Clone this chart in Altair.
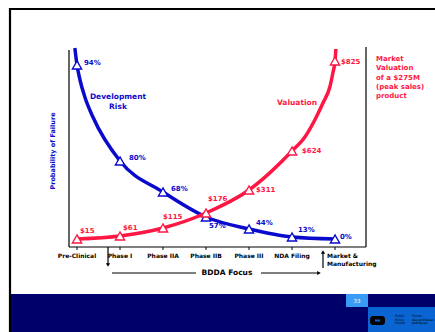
import altair as alt
import pandas as pd

# ---------------- data ----------------
stages = ["Pre-Clinical", "Phase I", "Phase IIA", "Phase IIB", "Phase III",
          "NDA Filing", "Market &\nManufacturing"]
risk_labels = ["94%", "80%", "68%", "57%", "44%", "13%", "0%"]
risk_level = [91, 43, 27.5, 15, 9, 5, 4]          # schematic curve height (0-100)
value_labels = ["$15", "$61", "$115", "$176", "$311", "$624", "$825"]
value_level = [4, 5.5, 9.5, 17, 28.5, 48, 93]     # schematic curve height (0-100)

# extra vertices of the drawn curves (stage index, height)
risk_curve_x = [-0.05, 0.07, 0.19, 0.37]
risk_curve_h = [99.5, 83.5, 74.5, 65]
value_curve_x = [5.30, 5.53, 5.72, 5.88, 5.95, 6.02]
value_curve_h = [55, 63.5, 72, 80, 87, 99]

idx = list(range(len(stages)))
BLUE = "#0A0ACC"
RED = "#FF1744"
FONT = "DejaVu Sans"

pts = pd.DataFrame({"i": idx, "stage": stages,
                    "risk": risk_level, "rlab": risk_labels,
                    "val": value_level, "vlab": value_labels})
risk_line = pd.DataFrame({"i": idx + risk_curve_x, "h": risk_level + risk_curve_h}).sort_values("i")
val_line = pd.DataFrame({"i": idx + value_curve_x, "h": value_level + value_curve_h}).sort_values("i")

X = alt.X("i:Q", scale=alt.Scale(domain=[0, 6], range=[77, 335], nice=False, zero=False), axis=None)
def Y(field):
    return alt.Y(f"{field}:Q", scale=alt.Scale(domain=[0, 100], range=[247, 47], nice=False, zero=False), axis=None)

one = pd.DataFrame({"a": [0]})

def rule(x, x2, y, y2, color="black", w=1.2):
    return alt.Chart(one).mark_rule(color=color, strokeWidth=w).encode(
        x=alt.value(x), x2=alt.value(x2), y=alt.value(y), y2=alt.value(y2))

def rect(x, x2, y, y2, color, r=0):
    return alt.Chart(one).mark_rect(color=color, cornerRadius=r).encode(
        x=alt.value(x), x2=alt.value(x2), y=alt.value(y), y2=alt.value(y2))

def txt(text, x, y, color="black", size=7, weight="bold", align="left", baseline="middle", angle=0, lh=None):
    kw = dict(text=text, color=color, fontSize=size, fontWeight=weight, align=align,
              baseline=baseline, font=FONT, lineBreak="\n")
    if angle:
        kw["angle"] = angle
    if lh:
        kw["lineHeight"] = lh
    return alt.Chart(one).mark_text(**kw).encode(x=alt.value(x), y=alt.value(y))

def head(shape, x, y, size=18):
    return alt.Chart(one).mark_point(shape=shape, filled=True, color="black", size=size, opacity=1).encode(
        x=alt.value(x), y=alt.value(y))

layers = []
# slide frame
layers += [rule(9, 435, 9, 9, w=2.2), rule(10, 10, 8, 332, w=2.2)]
# footer
layers += [rect(11, 435, 294, 332, "#00006A"), rect(346, 368, 294, 307, "#3A9BF5"),
           rect(368, 435, 307, 332, "#0A64D2"),
           txt("33", 357, 300.5, color="white", size=5.5, weight="normal", align="center"),
           rect(370, 385, 316, 325, "black", r=3), rect(375, 380, 319.5, 321.5, "#0A64D2"),
           txt("Public\nPolicy\nForum", 395, 316, size=3.2, weight="normal", baseline="middle", lh=3.6),
           txt("Forum\ndes politiques\npubliques", 412, 316, size=3.2, weight="normal", baseline="middle", lh=3.6)]
# axes frame
layers += [rule(69, 69, 50, 247), rule(366, 366, 47, 247), rule(69, 366, 247, 247)]

base = alt.Chart(pts)
# ticks
layers.append(base.mark_rule(color="black", strokeWidth=1).encode(x=X, y=alt.value(247), y2=alt.value(250)))
# tick labels
layers.append(base.transform_filter("datum.i < 6").mark_text(
    fontSize=6, fontWeight="bold", font=FONT, baseline="top", align="center").encode(
    x=X, y=alt.value(253), text="stage:N"))
layers.append(base.transform_filter("datum.i == 6").mark_text(
    fontSize=6, fontWeight="bold", font=FONT, baseline="top", align="left", dx=-8,
    lineBreak="\n", lineHeight=8).encode(x=X, y=alt.value(253), text="stage:N"))

# curves
layers.append(alt.Chart(risk_line).mark_line(color=BLUE, strokeWidth=3.5, interpolate="monotone").encode(x=X, y=Y("h")))
layers.append(alt.Chart(val_line).mark_line(color=RED, strokeWidth=3.5, interpolate="monotone").encode(x=X, y=Y("h")))

# markers
layers.append(base.mark_point(shape="triangle-up", size=85, fill="white", fillOpacity=1, stroke=BLUE,
                              strokeWidth=1.4, opacity=1).encode(x=X, y=Y("risk")))
layers.append(base.mark_point(shape="triangle-up", size=85, fill="white", fillOpacity=1, stroke=RED,
                              strokeWidth=1.4, opacity=1).encode(x=X, y=Y("val")))

# point labels (offsets are style)
risk_off = [(7, -2), (9, -3), (8, -3), (3, 9), (7, -6), (6, -7), (5, -2)]
val_off = [(3, -8), (3, -8), (0, -11), (2, -14), (7, 0), (10, 0), (6, 1)]
for k in idx:
    dx, dy = risk_off[k]
    layers.append(base.transform_filter(f"datum.i == {k}").mark_text(
        color=BLUE, fontSize=7, fontWeight="bold", font=FONT, align="left", baseline="middle",
        dx=dx, dy=dy).encode(x=X, y=Y("risk"), text="rlab:N"))
    dx, dy = val_off[k]
    layers.append(base.transform_filter(f"datum.i == {k}").mark_text(
        color=RED, fontSize=7, fontWeight="bold", font=FONT, align="left", baseline="middle",
        dx=dx, dy=dy).encode(x=X, y=Y("val"), text="vlab:N"))

# annotations
layers += [txt("Development\nRisk", 118, 97, color=BLUE, size=7.5, align="center", lh=10),
           txt("Valuation", 297, 103, color=RED, size=7.5, align="center"),
           txt("Market\nValuation\nof a $275M\n(peak sales)\nproduct", 376, 59, color=RED, size=7,
               align="left", baseline="middle", lh=9.3),
           txt("Probability of Failure", 53, 151, color=BLUE, size=6.5, align="center", angle=270)]

# BDDA focus arrows
layers += [rule(108, 108, 247, 264), head("triangle-down", 108, 265),
           rule(323, 323, 253, 268), head("triangle-up", 323, 252),
           rule(112, 196, 273, 273), rule(261, 318, 273, 273), head("triangle-right", 319, 273),
           txt("BDDA Focus", 227, 273, size=7.5, align="center")]

chart = alt.layer(*layers).properties(
    width=435, height=332, autosize=alt.AutoSizeParams(type="none"), padding=0,
    background="white"
).configure_view(stroke=None)

chart.save("out.html", embed_options={"renderer": "svg", "actions": False})
